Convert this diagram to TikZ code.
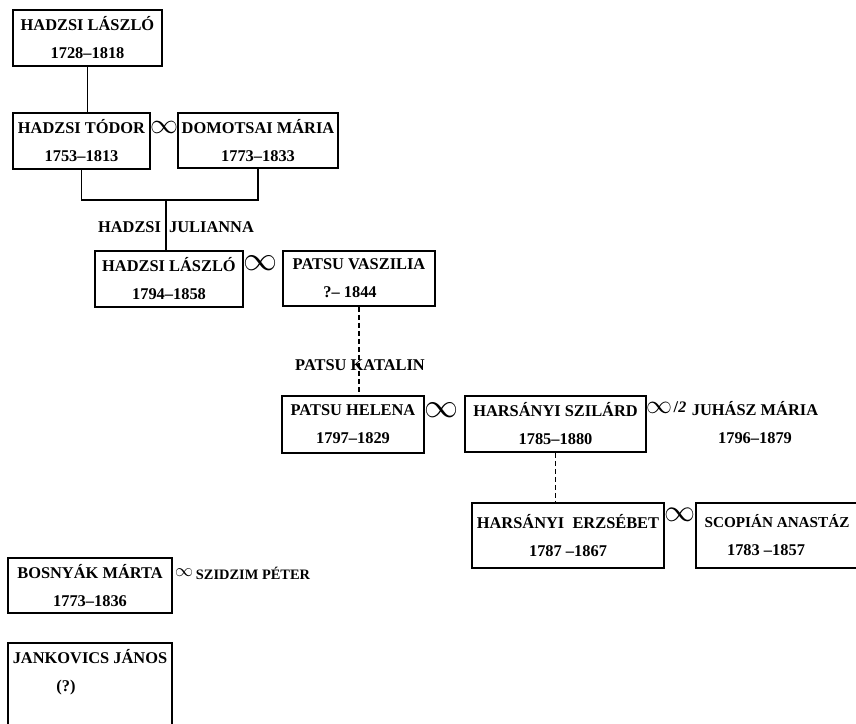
\documentclass[tikz,border=0pt]{standalone}
\usepackage{graphicx}
\usepackage{fontspec}
\setmainfont{Liberation Serif}

\newcommand{\wedsign}[1]{\scalebox{#1}{$\infty$}}

\begin{document}
\begin{tikzpicture}[
    x=0.5pt, y=-0.5pt,
    person/.style={draw=black, line width=0.9pt, inner sep=0pt, align=center,
        font=\bfseries\fontsize{8.2}{14}\selectfont},
    spouse/.style={inner sep=0pt, align=center, font=\bfseries\fontsize{8.2}{14}\selectfont},
    wed/.style={inner sep=0pt, font=\fontsize{10}{10}\selectfont},
    line/.style={line width=0.9pt},
    dotline/.style={line width=0.9pt, dash pattern=on 2.5pt off 1.5pt}
]

    \clip (0,0) rectangle (856,723);

    % Boxes
    \node[person, minimum width=74.5pt, minimum height=28pt] (laszlo1) at (87.5,38) {HADZSI LÁSZLÓ\\1728–1818};
    \node[person, minimum width=68.5pt, minimum height=28pt] (todor) at (81.5,141) {HADZSI TÓDOR\\1753–1813};
    \node[person, minimum width=80pt, minimum height=27.5pt] (domotsai) at (258,140.5) {DOMOTSAI MÁRIA\\1773–1833};
    \node[person, minimum width=74pt, minimum height=28pt] (laszlo2) at (169,279) {HADZSI LÁSZLÓ\\1794–1858};
    \node[person, minimum width=76pt, minimum height=27.5pt] (vaszilia) at (359,278.5) {PATSU VASZILIA\\?– 1844\hspace*{9pt}};
    \node[person, minimum width=71pt, minimum height=28.5pt] (helena) at (353,424.5) {PATSU HELENA\\1797–1829};
    \node[person, minimum width=90.5pt, minimum height=28pt] (szilard) at (555.5,424) {HARSÁNYI SZILÁRD\\1785–1880};
    \node[person, minimum width=96pt, minimum height=32.5pt] (erzsebet) at (568,535.5) {HARSÁNYI~ ERZSÉBET\\1787 –1867};
    \node[person, minimum width=87pt, minimum height=32.5pt] (scopian) at (783,535.5) {{\fontsize{7.6}{14}\selectfont SCOPIÁN ANASTÁZ}\hspace*{6pt}\\1783 –1857\hspace*{17pt}};
    \node[person, minimum width=82pt, minimum height=27.5pt] (bosnyak) at (90,585.5) {BOSNYÁK MÁRTA\\1773–1836};
    \node[person, minimum width=82pt, anchor=north, inner ysep=3.5pt, text depth=50pt] (jankovics) at (90,642) {JANKOVICS JÁNOS\\(?)\hspace*{24pt}};

    % Names outside boxes
    \node[spouse] (julianna) at (176,227) {HADZSI~ JULIANNA};
    \node[spouse] (katalin) at (360,365) {PATSU KATALIN};
    \node[spouse] (juhasz) at (755,423) {JUHÁSZ MÁRIA\\1796–1879};
    \node[spouse, font=\bfseries\fontsize{7.2}{14}\selectfont] (szidzim) at (253,573) {SZIDZIM PÉTER};

    % Marriages
    \node[wed] (m1) at (164,127) {\wedsign{1.4}};
    \node[wed] (m2) at (260,263) {\wedsign{1.7}};
    \node[wed] (m3) at (441,410) {\wedsign{1.7}};
    \node[wed] (m4) at (659,408) {\wedsign{1.3}};
    \node[spouse] (second) at (680,407) {/\footnotesize\itshape 2};
    \node[wed] (m5) at (680,515) {\wedsign{1.55}};
    \node[wed] (m6) at (184,573) {\wedsign{0.9}};

    % Descent lines
    \coordinate (fork) at (166,200);
    \draw[line] (laszlo1.south) -- (laszlo1.south |- todor.north);
    \draw[line] (todor.south) |- (fork) -| (domotsai.south);
    \draw[line] (fork) -- (fork |- laszlo2.north);
    \draw[dotline] (vaszilia.south) -- (vaszilia.south |- helena.north);
    \draw[dotline] (szilard.south) -- (szilard.south |- erzsebet.north);
\end{tikzpicture}
\end{document}
